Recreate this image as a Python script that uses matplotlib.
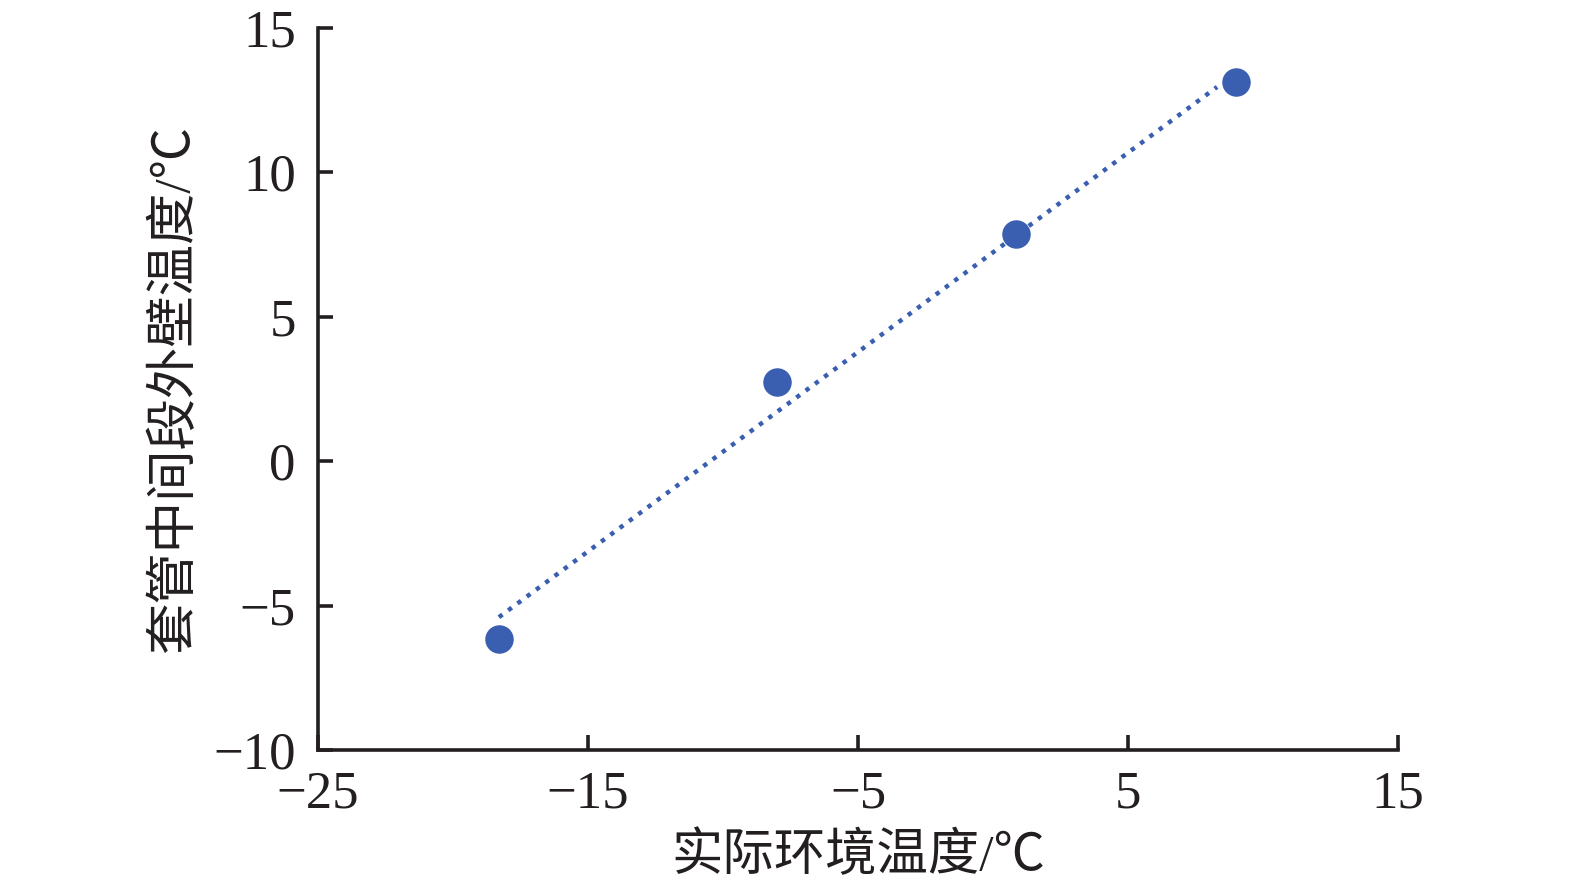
import matplotlib
matplotlib.use("Agg")
import matplotlib.pyplot as plt

# data
ambient_temp = [-18.3, -8.0, 0.85, 9.0]
wall_temp = [-6.17, 2.75, 7.86, 13.14]
trend_x = [-18.3, 8.3]
trend_y = [-5.4, 12.96]
xticks = [-25, -15, -5, 5, 15]
yticks = [-10, -5, 0, 5, 10, 15]
xlabel = "实际环境温度/℃"
ylabel = "套管中间段外壁温度/℃"

plt.rcParams['font.family'] = ['Liberation Serif', 'Noto Sans CJK SC', 'DejaVu Sans']
plt.rcParams['axes.unicode_minus'] = True

fig = plt.figure(figsize=(15.75, 8.96), dpi=100)
ax = fig.add_axes([0.2019, 0.1629, 0.6857, 0.8058])

color = '#3a5fb0'
ax.plot(trend_x, trend_y, color=color, lw=3.2, linestyle=(0, (1, 1.6)), zorder=2)
ax.plot(ambient_temp, wall_temp, 'o', color=color, markersize=19.5, zorder=3)

ax.set_xlim(-25, 15)
ax.set_ylim(-10, 15)
ax.set_xticks(xticks)
ax.set_yticks(yticks)
ax.set_xticklabels([f"{v}".replace('-', '\u2212') for v in xticks])
ax.set_yticklabels([f"{v}".replace('-', '\u2212') for v in yticks])

for s in ['top', 'right']:
    ax.spines[s].set_visible(False)
for s in ['left', 'bottom']:
    ax.spines[s].set_linewidth(2.6)
    ax.spines[s].set_color('#231f20')

ax.tick_params(direction='in', length=11, width=2.6, colors='#231f20',
               labelsize=38)
ax.tick_params(axis='y', pad=16)
ax.tick_params(axis='x', pad=15)

ax.set_xlabel(xlabel, fontsize=37, color='#231f20', labelpad=10)
ax.set_ylabel(ylabel, fontsize=37, color='#231f20', labelpad=10)

fig.savefig("out.png", dpi=100)
